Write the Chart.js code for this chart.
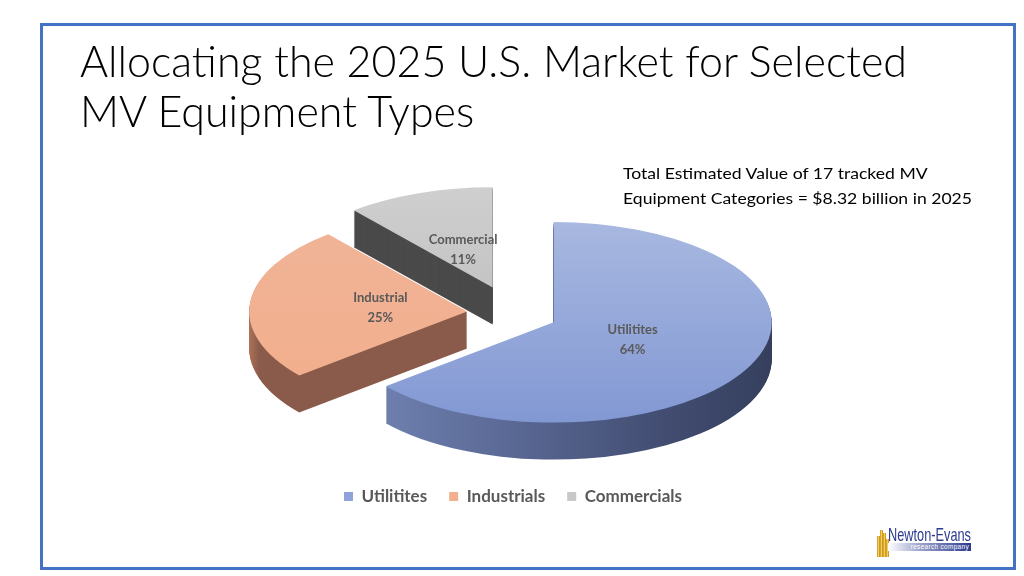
<!DOCTYPE html>
<html>
<head>
<meta charset="utf-8">
<script src="https://cdn.jsdelivr.net/npm/chart.js@4.4.1/dist/chart.umd.min.js"></script>
<style>
  html, body { margin: 0; padding: 0; background: #fff; }
  #slide { position: relative; width: 1024px; height: 576px; overflow: hidden; font-family: Lato, "Open Sans", sans-serif; }
  #frame { position: absolute; left: 40px; top: 23px; width: 970px; height: 541px; border: 3px solid #4472C4; }
  #chart { position: absolute; left: 0; top: 0; }
  .fit { position: absolute; white-space: nowrap; transform-origin: 0 0; }
  #title { left: 80px; top: 35px; font-size: 44px; line-height: 50px; font-weight: 300; color: #000; }
  #note { left: 623px; top: 160px; font-size: 16px; line-height: 25px; color: #000; }
  #logo { position: absolute; left: 876px; top: 524px; width: 96px; height: 34px; }
  #logo .bars { position: absolute; left: 1px; top: 6px; width: 13px; height: 27px; }
  #logo .bars span { position: absolute; bottom: 0; width: 3px; background: linear-gradient(90deg, #c68f16, #f6cf5a 50%, #b67f10); }
  #logo .name { position: absolute; left: 12px; top: 0; font-family: "Liberation Sans", sans-serif; font-size: 19px; color: #2c3a8f; white-space: nowrap; transform-origin: 0 0; }
  #logo .tag { position: absolute; left: 12px; top: 19px; width: 83px; height: 8px; background: linear-gradient(90deg, #ffffff, #9aa1cb 40%, #2c3a8f); color: #fff; font-family: "Liberation Sans", sans-serif; font-size: 6.5px; line-height: 8px; text-align: right; letter-spacing: 0.3px; padding-right: 2px; box-sizing: border-box; }
</style>
</head>
<body>
<div id="slide">
  <canvas id="chart" width="1024" height="576"></canvas>
  <div id="frame"></div>
  <div id="title" class="fit"><div id="t1">Allocating the 2025 U.S. Market for Selected</div><div>MV Equipment Types</div></div>
  <div id="note" class="fit"><div>Total Estimated Value of 17 tracked MV</div><div id="n2">Equipment Categories = $8.32 billion in 2025</div></div>
  <div id="logo">
    <div class="bars">
      <span style="left:0;height:21px"></span><span style="left:3px;height:27px"></span><span style="left:6px;height:24px"></span><span style="left:9px;height:18px"></span>
    </div>
    <div class="name" id="lname">Newton-Evans</div>
    <div class="tag">research company</div>
  </div>
</div>
<script>
// share of the 2025 market, percent
const legendNames = ['Utilitites', 'Industrials', 'Commercials'];
const sliceNames = ['Utilitites', 'Industrial', 'Commercial'];
const shares = [64, 25, 11];

const flatColors = ['#8fa2d9', '#f4b08e', '#c8c8c8'];
const explode = [45, 46, 60];

function fitWidth(el, target) {
  const w = el.getBoundingClientRect().width;
  return target / w;
}
// stretch text blocks to the widths they have in the slide
(function () {
  const t1 = document.getElementById('t1');
  t1.style.display = 'inline-block';
  document.getElementById('title').style.transform = 'scaleX(' + fitWidth(t1, 827) + ')';
  const n2 = document.getElementById('n2');
  n2.style.display = 'inline-block';
  document.getElementById('note').style.transform = 'scaleX(' + fitWidth(n2, 349) + ')';
  const ln = document.getElementById('lname');
  ln.style.transform = 'scaleX(' + fitWidth(ln, 83) + ')';
})();

function drawSlice(ctx, arc, e, dy, fill) {
  const h = (arc.startAngle + arc.endAngle) / 2;
  ctx.save();
  ctx.translate(Math.cos(h) * e, Math.sin(h) * e + dy);
  const o = arc.options;
  arc.options = Object.assign({}, o, { backgroundColor: fill, borderWidth: 0 });
  arc.draw(ctx);
  arc.options = o;
  ctx.restore();
}

const pie3d = {
  id: 'pie3d',
  beforeDatasetsDraw(chart, args, opts) {
    const ctx = chart.ctx;
    const arcs = chart.getDatasetMeta(0).data;
    if (!arcs.length) return;
    const cx = arcs[0].x, cy = arcs[0].y, R = arcs[0].outerRadius;
    const k = opts.tilt;

    // side colours
    const uSide = ctx.createLinearGradient(cx - R, 0, cx + R + 40, 0);
    uSide.addColorStop(0, '#7687b8');
    uSide.addColorStop(0.35, '#5b6a96');
    uSide.addColorStop(0.7, '#414c70');
    uSide.addColorStop(1, '#313a56');
    const iSide = ctx.createLinearGradient(cx - R - 45, 0, cx - R + 10, 0);
    iSide.addColorStop(0, '#dc9574');
    iSide.addColorStop(0.7, '#c47f60');
    iSide.addColorStop(1, '#8a5b4a');
    const sides = [uSide, iSide, '#4a4a4a'];

    ctx.save();
    ctx.translate(cx, cy);
    ctx.scale(1, k);
    ctx.translate(-cx, -cy);

    // top colours (in squashed space)
    const uTop = ctx.createLinearGradient(0, cy - R, 0, cy + R);
    uTop.addColorStop(0, '#a8b8e0');
    uTop.addColorStop(1, '#8298d3');
    const iTop = ctx.createLinearGradient(0, cy - R, 0, cy + R);
    iTop.addColorStop(0, '#f0b497');
    iTop.addColorStop(1, '#f2ae8c');
    const cTop = ctx.createLinearGradient(0, cy - R - 60, 0, cy);
    cTop.addColorStop(0, '#d2d2d2');
    cTop.addColorStop(1, '#c4c4c4');
    const tops = [uTop, iTop, cTop];

    for (let d = opts.depth; d >= 1; d--) {
      arcs.forEach((arc, i) => drawSlice(ctx, arc, explode[i], d / k, sides[i]));
    }
    arcs.forEach((arc, i) => drawSlice(ctx, arc, explode[i], 0, tops[i]));
    ctx.restore();

    // data labels
    const total = shares.reduce((a, b) => a + b, 0);
    ctx.save();
    ctx.font = 'bold 13px Lato, sans-serif';
    ctx.fillStyle = '#595959';
    ctx.textAlign = 'center';
    ctx.textBaseline = 'middle';
    arcs.forEach((arc, i) => {
      const h = (arc.startAngle + arc.endAngle) / 2;
      const r = explode[i] + arc.outerRadius * opts.labelAt;
      const x = arc.x + Math.cos(h) * r;
      const y = arc.y + Math.sin(h) * r * k;
      ctx.fillText(sliceNames[i], x, y - 10);
      ctx.fillText(Math.round(shares[i] / total * 100) + '%', x, y + 10);
    });
    ctx.restore();
    return false;
  }
};

new Chart(document.getElementById('chart'), {
  type: 'pie',
  data: {
    labels: legendNames,
    datasets: [{
      data: shares,
      backgroundColor: flatColors,
      borderWidth: 0,
      radius: 218,
      clip: false
    }]
  },
  options: {
    responsive: false,
    animation: false,
    layout: { padding: { top: 161, bottom: 61, left: 2, right: 0 } },
    plugins: {
      legend: {
        position: 'bottom',
        labels: {
          boxWidth: 9,
          boxHeight: 9,
          padding: 22,
          color: '#595959',
          font: { family: 'Lato, sans-serif', size: 17, weight: 'bold' }
        }
      },
      tooltip: { enabled: false },
      pie3d: { tilt: 0.46, depth: 37, labelAt: 0.4 }
    }
  },
  plugins: [pie3d]
});
</script>
</body>
</html>
